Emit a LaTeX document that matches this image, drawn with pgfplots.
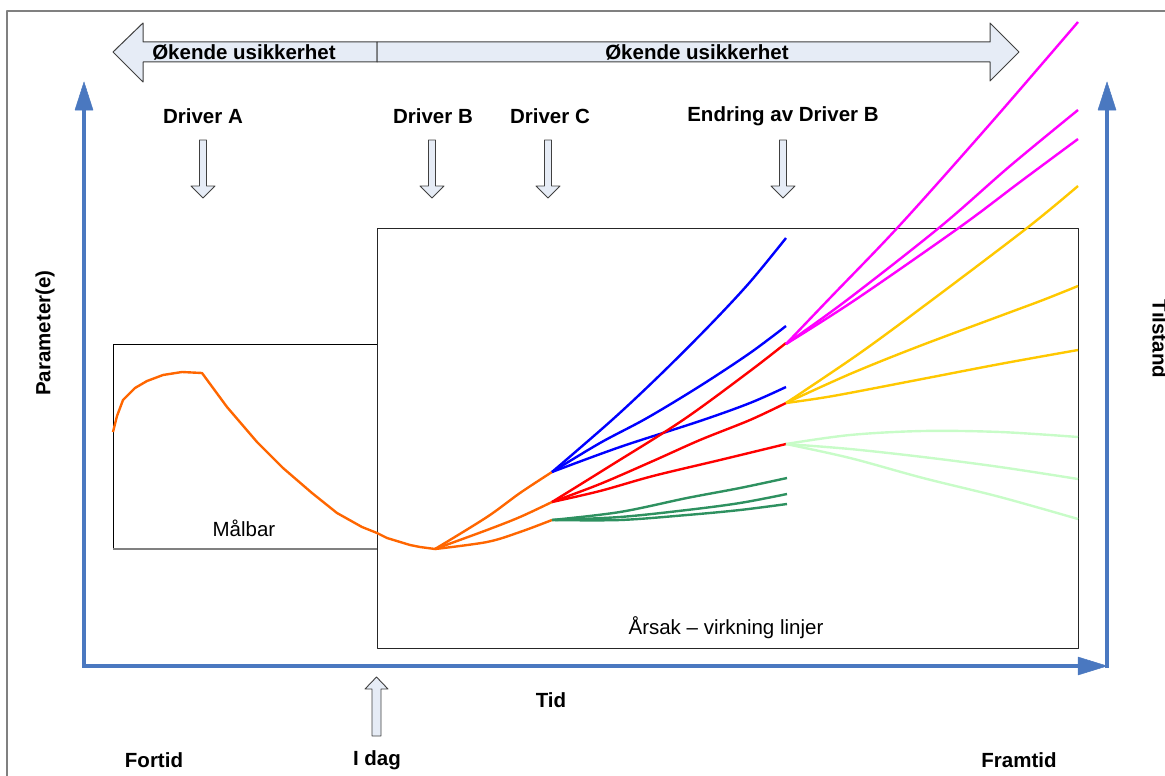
\documentclass[border=0pt]{standalone}
\usepackage{fontspec}
\setmainfont{Liberation Sans}
\usepackage{pgfplots}
\pgfplotsset{compat=1.18}

\definecolor{axblue}{HTML}{4A78C0}
\definecolor{arrfill}{HTML}{E6ECF6}
\definecolor{arrline}{HTML}{404040}
\definecolor{corange}{HTML}{FF6600}
\definecolor{cblue}{HTML}{0000FF}
\definecolor{cred}{HTML}{FF0000}
\definecolor{cgreen}{HTML}{2E9160}
\definecolor{cmag}{HTML}{FF00FF}
\definecolor{cyel}{HTML}{FFC800}
\definecolor{clgreen}{HTML}{C8FCC8}

\newcommand{\bigb}{\fontsize{20.5}{24}\selectfont\bfseries}
\newcommand{\bign}{\fontsize{20.5}{24}\selectfont}

\begin{document}
\begin{tikzpicture}
\begin{axis}[
    width=1165pt, height=776pt, scale only axis,
    xmin=0, xmax=1165, ymin=0, ymax=776,
    y dir=reverse, hide axis, clip=true,
    every axis plot/.append style={line width=2.4pt, line join=round},
    branch/.style={smooth, tension=0.55},
]
% outer frame
\addplot[draw=gray, line width=1.2pt] coordinates {(7,1200) (7,11) (1200,11)};

% boxes
\addplot[draw=black, line width=1pt] coordinates {(113,344) (377,344) (377,549) (113,549) (113,344)};
\addplot[draw=gray, line width=1.6pt] coordinates {(113,549) (377,549)};
\addplot[draw=black!85, line width=1pt] coordinates {(377,228) (1078,228) (1078,648) (377,648) (377,228)};

% top double arrow
\addplot[draw=arrline, fill=arrfill, line width=1pt] coordinates
  {(377,42) (143,42) (143,23) (113,52) (143,82) (143,62) (377,62)} -- cycle;
\addplot[draw=arrline, fill=arrfill, line width=1pt] coordinates
  {(377,42) (990,42) (990,23) (1019,52) (990,81) (990,62) (377,62)} -- cycle;

% driver arrows
\addplot[draw=arrline, fill=arrfill, line width=0.9pt] coordinates
  {(199.5,140) (206.5,140) (206.5,186) (215,186) (203,198) (191,186) (199.5,186)} -- cycle;
\addplot[draw=arrline, fill=arrfill, line width=0.9pt] coordinates
  {(428.5,140) (435.5,140) (435.5,186) (444,186) (432,198) (420,186) (428.5,186)} -- cycle;
\addplot[draw=arrline, fill=arrfill, line width=0.9pt] coordinates
  {(544.5,140) (551.5,140) (551.5,186) (560,186) (548,198) (536,186) (544.5,186)} -- cycle;
\addplot[draw=arrline, fill=arrfill, line width=0.9pt] coordinates
  {(779.5,140) (786.5,140) (786.5,186) (795,186) (783,198) (771,186) (779.5,186)} -- cycle;
% I dag arrow
\addplot[draw=arrline, fill=arrfill, line width=0.9pt] coordinates
  {(372,736) (381,736) (381,689) (388,689) (376.5,677) (365,689) (372,689)} -- cycle;

% blue axes
\addplot[draw=axblue, line width=4pt] coordinates {(84,666) (84,108)};
\addplot[draw=axblue, fill=axblue, line width=0.5pt] coordinates {(75,110) (84,82) (93,110)} -- cycle;
\addplot[draw=axblue, line width=4pt] coordinates {(82,666) (1080,666)};
\addplot[draw=axblue, fill=axblue, line width=0.5pt] coordinates {(1078,657) (1107,666) (1078,675)} -- cycle;
\addplot[draw=axblue, line width=4pt] coordinates {(1107,668) (1107,108)};
\addplot[draw=axblue, fill=axblue, line width=0.5pt] coordinates {(1098,110) (1107,82) (1116,110)} -- cycle;

% orange history curve
\addplot[draw=corange] coordinates {
(113,432) (117,416) (123,400) (135,388) (147,381) (163,375) (182,372) (202,373)
(227,407) (257,442) (283,468) (312,493) (337,513) (362,527) (377,533) (387,538)
(410,545) (420,547) (435,549)};
\addplot[draw=corange, branch] coordinates {(435,549) (487,517) (520,493) (552,472)};
\addplot[draw=corange, branch] coordinates {(435,549) (487,530) (520,517) (552,502)};
\addplot[draw=corange, branch] coordinates {(435,549) (487,542) (520,532) (552,520)};

% blue branches
\addplot[draw=cblue, branch] coordinates {(552,472) (612,420) (660,375) (710,325) (750,282) (786,238)};
\addplot[draw=cblue, branch] coordinates {(552,472) (600,443) (647,418) (700,386) (750,353) (786,326)};
\addplot[draw=cblue, branch] coordinates {(552,472) (620,447) (700,421) (750,403) (786,387)};

% red branches
\addplot[draw=cred, branch] coordinates {(552,502) (610,466) (683,420) (750,371) (786,343)};
\addplot[draw=cred, branch] coordinates {(552,502) (600,484) (653,461) (700,440) (750,420) (786,403)};
\addplot[draw=cred, branch] coordinates {(552,502) (600,491) (653,476) (720,460) (786,444)};

% green branches
\addplot[draw=cgreen, branch] coordinates {(552,520) (620,512) (687,498) (740,488) (787,478)};
\addplot[draw=cgreen, branch] coordinates {(552,520) (620,517) (687,510) (740,503) (787,494)};
\addplot[draw=cgreen, branch] coordinates {(552,520) (620,520) (687,515) (740,510) (787,504)};

% magenta branches
\addplot[draw=cmag, branch] coordinates {(786,344) (830,298) (900,225) (990,124) (1078,22)};
\addplot[draw=cmag, branch] coordinates {(786,344) (847,300) (940,227) (1010,166) (1078,110)};
\addplot[draw=cmag, branch] coordinates {(786,344) (855,300) (960,227) (1020,182) (1078,139)};

% yellow branches
\addplot[draw=cyel, branch] coordinates {(786,403) (860,353) (932,300) (1027,228) (1078,186)};
\addplot[draw=cyel, branch] coordinates {(786,403) (850,374) (917,347) (1000,316) (1043,300) (1078,286)};
\addplot[draw=cyel, branch] coordinates {(786,403) (833,396) (917,380) (1000,364) (1078,350)};

% light green branches
\addplot[draw=clgreen, branch] coordinates {(786,444) (850,435) (923,431) (1000,432) (1078,437)};
\addplot[draw=clgreen, branch] coordinates {(786,444) (850,449) (923,457) (1000,467) (1078,479)};
\addplot[draw=clgreen, branch] coordinates {(786,444) (850,458) (923,478) (1000,497) (1078,519)};

% labels
\node at (axis cs:244,52) {\bigb Økende usikkerhet};
\node at (axis cs:697,52) {\bigb Økende usikkerhet};
\node at (axis cs:203,116) {\bigb Driver A};
\node at (axis cs:433,116) {\bigb Driver B};
\node at (axis cs:550,116) {\bigb Driver C};
\node at (axis cs:783,116) {\bigb Endring av Driver B};
\node[rotate=90] at (axis cs:45,333) {\bigb Parameter(e)};
\node[rotate=-90] at (axis cs:1160,339) {\bigb Tilstand};
\node at (axis cs:244,528) {\bign Målbar};
\node at (axis cs:726,628) {\bign Årsak – virkning linjer};
\node at (axis cs:551,700) {\bigb Tid};
\node at (axis cs:154,760) {\bigb Fortid};
\node at (axis cs:377,760) {\bigb I dag};
\node at (axis cs:1019,760) {\bigb Framtid};
\end{axis}
\pgfresetboundingbox
\path (current axis.south west) rectangle (current axis.north east);
\end{tikzpicture}
\end{document}
